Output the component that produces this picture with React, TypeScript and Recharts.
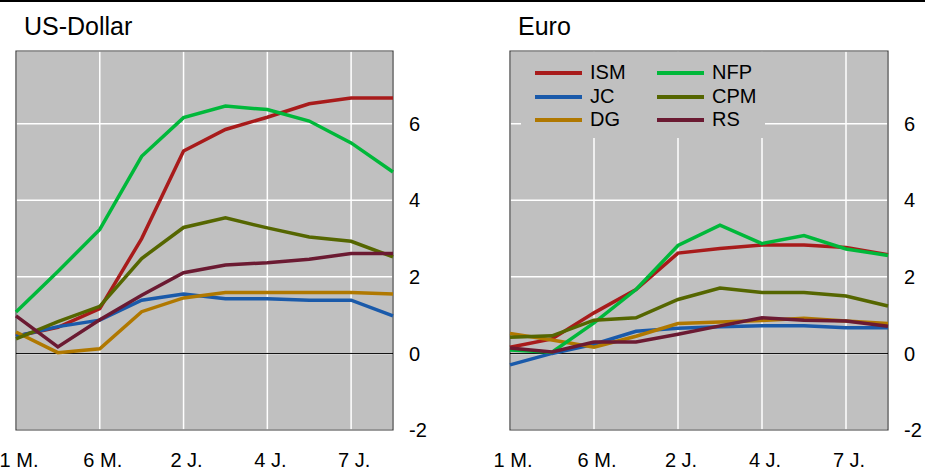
import { LineChart, Line, XAxis, YAxis, CartesianGrid, ReferenceLine, ReferenceArea, Legend } from 'recharts'

// maturities on the x axis, labels shown only for a few of them
const categories = ["1 M.", "3 M.", "6 M.", "1 J.", "2 J.", "3 J.", "4 J.", "5 J.", "7 J.", "10 J."]
const xTicks = ["1 M.", "6 M.", "2 J.", "4 J.", "7 J."]
const yTicks = [-2, 0, 2, 4, 6]

// US-Dollar
const usdISM = [0.45, 0.68, 1.17, 3.0, 5.29, 5.85, 6.17, 6.52, 6.67, 6.67]
const usdJC = [0.45, 0.7, 0.87, 1.39, 1.55, 1.43, 1.43, 1.39, 1.39, 0.98]
const usdDG = [0.56, 0.02, 0.12, 1.09, 1.45, 1.59, 1.59, 1.59, 1.59, 1.55]
const usdNFP = [1.08, 2.14, 3.24, 5.15, 6.16, 6.46, 6.37, 6.07, 5.5, 4.74]
const usdCPM = [0.38, 0.83, 1.23, 2.48, 3.29, 3.54, 3.28, 3.04, 2.93, 2.52]
const usdRS = [0.98, 0.17, 0.88, 1.52, 2.11, 2.31, 2.37, 2.46, 2.61, 2.61]

// Euro
const eurISM = [0.16, 0.38, 1.06, 1.67, 2.62, 2.74, 2.83, 2.83, 2.77, 2.58]
const eurJC = [-0.3, 0.0, 0.24, 0.58, 0.66, 0.7, 0.72, 0.72, 0.67, 0.67]
const eurDG = [0.52, 0.35, 0.16, 0.45, 0.78, 0.82, 0.86, 0.92, 0.85, 0.78]
const eurNFP = [0.09, 0.03, 0.8, 1.67, 2.82, 3.35, 2.87, 3.08, 2.73, 2.56]
const eurCPM = [0.42, 0.46, 0.87, 0.93, 1.41, 1.71, 1.59, 1.59, 1.5, 1.24]
const eurRS = [0.14, 0.04, 0.3, 0.3, 0.5, 0.72, 0.93, 0.87, 0.85, 0.71]

const seriesKeys = ["ISM", "JC", "DG", "NFP", "CPM", "RS"]
const colors: Record<string, string> = {
  ISM: "#a81b1b",
  JC: "#1a5aaa",
  DG: "#b07800",
  NFP: "#00b83a",
  CPM: "#556600",
  RS: "#6b1a32",
}

const FONT = '"Liberation Sans", Arial, sans-serif'

function buildRows(series: number[][]) {
  return categories.map((t, i) => {
    const row: Record<string, string | number> = { t }
    seriesKeys.forEach((k, j) => {
      row[k] = series[j][i]
    })
    return row
  })
}

const usdRows = buildRows([usdISM, usdJC, usdDG, usdNFP, usdCPM, usdRS])
const eurRows = buildRows([eurISM, eurJC, eurDG, eurNFP, eurCPM, eurRS])

// two columns, three rows: ISM/JC/DG then NFP/CPM/RS
function LegendBox({ payload }: any) {
  const items = [...(payload || [])].sort(
    (a: any, b: any) => seriesKeys.indexOf(a.value) - seriesKeys.indexOf(b.value)
  )
  return (
    <div style={{ position: "relative", width: 244, height: 86, background: "#c0c0c0", fontFamily: FONT }}>
      {items.map((p: any, i: number) => {
        const col = Math.floor(i / 3)
        const row = i % 3
        return (
          <div
            key={p.value}
            style={{
              position: "absolute",
              left: col === 0 ? 14 : 136,
              top: 10 + row * 23.5,
              height: 20,
              display: "flex",
              alignItems: "center",
            }}
          >
            <div style={{ width: 47, height: 4, background: p.color, marginTop: 2 }} />
            <span style={{ marginLeft: 8, fontSize: 20, lineHeight: "20px", color: "#000" }}>{p.value}</span>
          </div>
        )
      })}
    </div>
  )
}

interface PanelProps {
  title: string
  rows: Record<string, string | number>[]
  left: number
  width: number
  marginLeft: number
  axisWidth: number
  titleLeft: number
  showLegend?: boolean
}

function Panel({ title, rows, left, width, marginLeft, axisWidth, titleLeft, showLegend }: PanelProps) {
  return (
    <div style={{ position: "absolute", left, top: 0, width, height: 469 }}>
      <div style={{ position: "absolute", left: titleLeft, top: 14, fontSize: 25, lineHeight: "25px", fontFamily: FONT, color: "#000" }}>
        {title}
      </div>
      <LineChart width={width} height={469} data={rows} margin={{ top: 51, right: 7, bottom: 0, left: marginLeft }}>
        <CartesianGrid stroke="#ffffff" strokeWidth={1.5} fill="#c0c0c0" fillOpacity={1} />
        <XAxis
          dataKey="t"
          type="category"
          ticks={xTicks}
          interval={0}
          height={39}
          axisLine={false}
          tickLine={false}
          tickSize={0}
          tickMargin={23}
          tick={{ fill: "#000", fontSize: 20, fontFamily: FONT, dx: 3 }}
        />
        <YAxis
          orientation="right"
          domain={[-2, 7.9]}
          ticks={yTicks}
          width={axisWidth}
          axisLine={false}
          tickLine={false}
          tickSize={0}
          tickMargin={16}
          tick={{ fill: "#000", fontSize: 20, fontFamily: FONT, textAnchor: "start" }}
        />
        <ReferenceLine y={0} stroke="#000" strokeWidth={1} />
        <ReferenceArea x1="1 M." x2="10 J." y1={-2} y2={7.9} fill="none" stroke="#3c3c3c" strokeWidth={1.2} />
        {showLegend && (
          <Legend
            layout="horizontal"
            verticalAlign="middle"
            align="center"
            content={<LegendBox />}
            wrapperStyle={{ left: 61, top: 52, width: 244, height: 86 }}
          />
        )}
        {seriesKeys.map((k) => (
          <Line
            key={k}
            type="linear"
            dataKey={k}
            stroke={colors[k]}
            strokeWidth={3.5}
            dot={false}
            activeDot={false}
            isAnimationActive={false}
          />
        ))}
      </LineChart>
    </div>
  )
}

export default function App() {
  return (
    <div style={{ position: "absolute", left: 0, top: 0, width: 925, height: 469, background: "#fff", overflow: "hidden" }}>
      <div style={{ position: "absolute", left: 0, top: 0, width: 925, height: 2, background: "#000" }} />
      <Panel title="US-Dollar" rows={usdRows} left={0} width={460} marginLeft={16} axisWidth={60} titleLeft={24} />
      <Panel title="Euro" rows={eurRows} left={460} width={465} marginLeft={50} axisWidth={30} titleLeft={58} showLegend />
    </div>
  )
}
